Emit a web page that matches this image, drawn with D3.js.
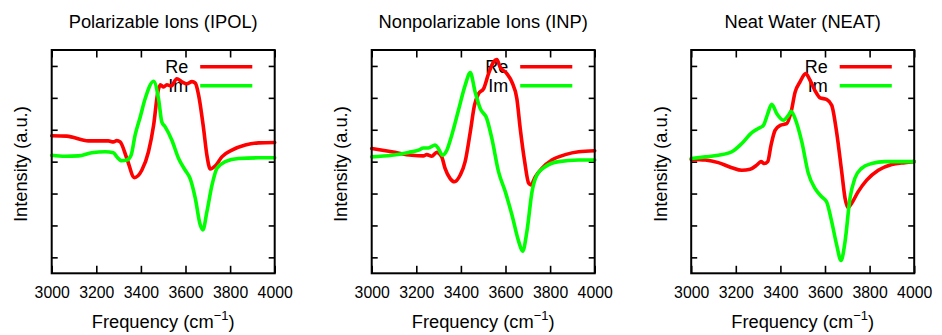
<!DOCTYPE html>
<html>
<head>
<meta charset="utf-8">
<script src="https://cdn.jsdelivr.net/npm/d3@7"></script>
<style>
  html, body { margin: 0; padding: 0; background: #fff; }
  svg { display: block; }
  text { font-family: "Liberation Sans", Arial, Helvetica, sans-serif; fill: #000; }
</style>
</head>
<body>
<svg id="chart" width="942" height="335"></svg>
<script>
// ---------- data ----------
const panelTitles = ["Polarizable Ions (IPOL)", "Nonpolarizable Ions (INP)", "Neat Water (NEAT)"];
const xTickValues = [3000, 3200, 3400, 3600, 3800, 4000];
const xTickLabels = ["3000", "3200", "3400", "3600", "3800", "4000"];
const yTickValues = [-3, -2, -1, 0, 1, 2, 3];
const seriesNames = ["Re", "Im"];
const seriesColors = ["#ff0000", "#00ff00"];

const ipolReFreq = [3000,3067,3165,3254,3277,3292,3307,3337,3371,3404,3434,3457,3476,3487,3502,3516,3536,3561,3584,3606,3629,3644,3659,3681,3696,3711,3734,3763,3808,3868,3928,4000];
const ipolRe     = [0.81,0.80,0.65,0.65,0.62,0.66,0.62,0.10,-0.50,-0.27,0.31,1.14,2.18,2.41,2.34,2.41,2.37,2.60,2.50,2.44,2.51,2.46,2.08,1.04,0.20,-0.23,-0.13,0.15,0.36,0.52,0.59,0.60];
const ipolImFreq = [3000,3060,3120,3180,3240,3277,3292,3314,3337,3356,3374,3397,3419,3457,3479,3494,3509,3539,3569,3599,3621,3644,3666,3678,3696,3719,3741,3778,3838,3928,4000];
const ipolIm     = [0.20,0.17,0.18,0.28,0.31,0.28,0.15,0.03,0.05,0.20,0.83,1.40,1.97,2.52,1.97,1.24,1.09,0.67,0.10,-0.27,-0.53,-1.15,-1.98,-2.14,-1.57,-0.73,-0.21,0.00,0.10,0.12,0.12];

const inpReFreq = [3000,3090,3180,3232,3247,3269,3292,3314,3329,3352,3371,3397,3419,3442,3461,3479,3502,3524,3546,3561,3576,3606,3629,3651,3666,3686,3704,3714,3734,3763,3808,3868,3928,4000];
const inpRe     = [0.41,0.31,0.20,0.18,0.22,0.17,0.29,0.15,-0.21,-0.53,-0.63,-0.42,0.00,0.93,1.77,2.13,2.29,2.76,3.12,3.20,2.96,2.76,2.49,1.97,1.04,0.00,-0.68,-0.73,-0.47,-0.21,0.05,0.22,0.31,0.34];
const inpImFreq = [3000,3090,3165,3210,3232,3254,3284,3299,3317,3337,3359,3389,3419,3442,3464,3487,3516,3539,3569,3599,3629,3659,3677,3696,3719,3741,3778,3838,3928,4000];
const inpIm     = [0.15,0.20,0.29,0.36,0.43,0.43,0.52,0.41,0.20,0.36,0.83,1.61,2.39,2.79,2.18,1.66,1.35,0.72,-0.32,-0.94,-1.67,-2.50,-2.81,-2.19,-0.94,-0.42,-0.16,0.00,0.05,0.05];

const neatReFreq = [3000,3063,3122,3182,3227,3264,3294,3313,3328,3343,3358,3376,3399,3428,3448,3466,3488,3513,3533,3555,3578,3607,3630,3652,3675,3690,3704,3719,3749,3787,3839,3899,3958,4000];
const neatRe     = [0.07,0.05,-0.03,-0.19,-0.27,-0.24,-0.11,0.00,-0.06,0.00,0.52,0.98,1.14,1.19,1.56,2.18,2.50,2.76,2.55,2.23,2.00,1.95,1.77,0.93,-0.32,-1.15,-1.44,-1.31,-0.94,-0.58,-0.27,-0.09,-0.03,0.00];
const neatImFreq = [3000,3063,3122,3182,3227,3272,3301,3324,3343,3361,3384,3413,3436,3448,3466,3496,3525,3555,3585,3607,3630,3652,3672,3690,3712,3734,3764,3809,3869,4000];
const neatIm     = [0.10,0.15,0.20,0.31,0.57,0.91,1.04,1.14,1.50,1.80,1.50,1.30,1.45,1.58,1.35,0.62,-0.36,-0.84,-1.10,-1.26,-1.88,-2.60,-3.10,-2.50,-1.15,-0.52,-0.21,-0.06,0.00,0.00];

// ---------- layout ----------
const panelLefts = [51.7, 371.7, 691.2];
const plotW = 223, plotTop = 50, plotBottom = 273.3;

const panelSeries = [
  [[ipolReFreq, ipolRe], [ipolImFreq, ipolIm]],
  [[inpReFreq, inpRe], [inpImFreq, inpIm]],
  [[neatReFreq, neatRe], [neatImFreq, neatIm]]
];

const svg = d3.select("#chart");

panelTitles.forEach((title, p) => {
  const left = panelLefts[p];
  const g = svg.append("g");
  const x = d3.scaleLinear().domain([3000, 4000]).range([left, left + plotW]);
  const y = d3.scaleLinear().domain([-3.5, 3.5]).range([plotBottom, plotTop]);
  const cx = left + plotW / 2;

  // title
  g.append("text").attr("x", cx).attr("y", 28.3).attr("text-anchor", "middle")
    .style("font-size", "18.3px").text(title);

  // axes (inward ticks)
  const bottom = g.append("g").attr("transform", `translate(0,${plotBottom})`)
    .call(d3.axisBottom(x).tickValues(xTickValues).tickSize(-7.5)
      .tickFormat((d, i) => xTickLabels[i]));
  bottom.selectAll("text").attr("y", 25).attr("dy", 0)
    .style("font-size", "15.8px").style("font-family", "Liberation Sans, Arial, sans-serif");
  const top = g.append("g").attr("transform", `translate(0,${plotTop})`)
    .call(d3.axisTop(x).tickValues(xTickValues).tickSize(-7.5).tickFormat(""));
  const leftAx = g.append("g").attr("transform", `translate(${left},0)`)
    .call(d3.axisLeft(y).tickValues(yTickValues).tickSize(-6).tickFormat(""));
  const rightAx = g.append("g").attr("transform", `translate(${left + plotW},0)`)
    .call(d3.axisRight(y).tickValues(yTickValues).tickSize(-6).tickFormat(""));
  [bottom, top, leftAx, rightAx].forEach(a => {
    a.select(".domain").remove();
    a.selectAll("line").attr("stroke", "#000").attr("stroke-width", 1.6);
  });

  // axis labels
  const xl = g.append("text").attr("x", cx).attr("y", 327.5).attr("text-anchor", "middle")
    .style("font-size", "18.3px");
  xl.append("tspan").text("Frequency (cm");
  xl.append("tspan").attr("dy", -7.5).style("font-size", "13px").text("\u22121");
  xl.append("tspan").attr("dy", 7.5).text(")");

  g.append("text")
    .attr("transform", `translate(${left - 24.5},${(plotTop + plotBottom) / 2 + 2.5}) rotate(-90)`)
    .attr("text-anchor", "middle").style("font-size", "18.3px").text("Intensity (a.u.)");

  // legend
  seriesNames.forEach((name, i) => {
    const ly = 66.7 + i * 19;
    g.append("text").attr("x", left + 136.6).attr("y", ly + 6.5).attr("text-anchor", "end")
      .style("font-size", "18px").text(name);
    g.append("line").attr("x1", left + 148.5).attr("x2", left + 200.6)
      .attr("y1", ly).attr("y2", ly)
      .attr("stroke", seriesColors[i]).attr("stroke-width", 3.6);
  });

  // curves
  const line = d3.line().x(d => x(d[0])).y(d => y(d[1])).curve(d3.curveMonotoneX);
  panelSeries[p].forEach(([fr, vals], i) => {
    const pts = fr.map((f, k) => [f, vals[k]]);
    g.append("path").datum(pts).attr("d", line).attr("fill", "none")
      .attr("stroke", seriesColors[i]).attr("stroke-width", 3.6)
      .attr("stroke-linejoin", "round").attr("stroke-linecap", "round");
  });

  // border
  g.append("rect").attr("x", left).attr("y", plotTop).attr("width", plotW)
    .attr("height", plotBottom - plotTop).attr("fill", "none")
    .attr("stroke", "#000").attr("stroke-width", 2);
});
</script>
</body>
</html>
